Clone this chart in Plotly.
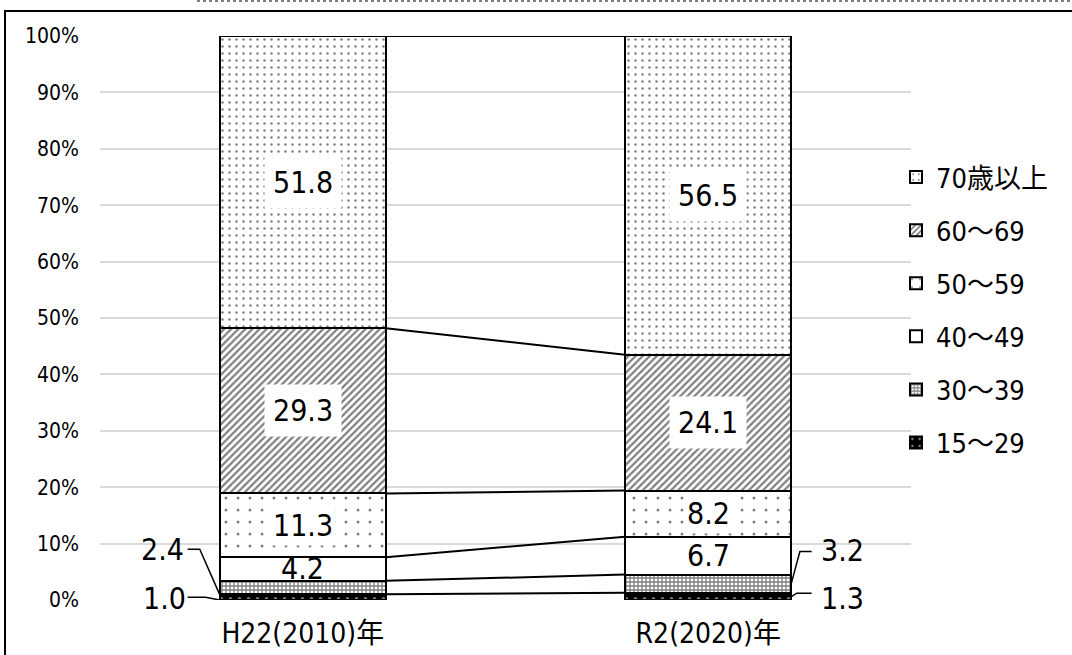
import plotly.graph_objects as go

# ---- data -------------------------------------------------------------
categories = ["H22(2010)年", "R2(2020)年"]
age_groups = ["15～29", "30～39", "40～49", "50～59", "60～69", "70歳以上"]
share_2010 = [1.0, 2.4, 4.2, 11.3, 29.3, 51.8]
share_2020 = [1.3, 3.2, 6.7, 8.2, 24.1, 56.5]
y_tick_values = [0, 10, 20, 30, 40, 50, 60, 70, 80, 90, 100]
y_tick_labels = [f"{v}%" for v in y_tick_values]

FONT = "DejaVu Sans Condensed, Noto Sans CJK JP, sans-serif"
BAR_WIDTH = 0.41
x_pos = [0, 1]

# fill pattern per age group (monochrome, print style)
patterns = {
    "15～29": dict(color="black", pattern=dict(shape=".", fgcolor="white", size=9, solidity=0.1)),
    "30～39": dict(color="white", pattern=dict(shape="+", fgcolor="black", size=4, solidity=0.55)),
    "40～49": dict(color="white", pattern=dict(shape="")),
    "50～59": dict(color="white", pattern=dict(shape=".", fgcolor="black", size=12, solidity=0.05)),
    "60～69": dict(color="white", pattern=dict(shape="/", fgcolor="black", size=5, solidity=0.45)),
    "70歳以上": dict(color="white", pattern=dict(shape=".", fgcolor="black", size=7, solidity=0.1)),
}

fig = go.Figure()

n = len(age_groups)
for i, grp in enumerate(age_groups):
    style = patterns[grp]
    fig.add_trace(go.Bar(
        x=x_pos,
        y=[share_2010[i], share_2020[i]],
        name=grp,
        legendgroup=grp,
        legendrank=n - i,
        width=BAR_WIDTH,
        marker=dict(color=style["color"], pattern=style["pattern"],
                    line=dict(color="black", width=2)),
        hoverinfo="skip",
    ))

# series lines joining the segment boundaries of the two bars
cum_2010, cum_2020 = [], []
a = b = 0.0
for v1, v2 in zip(share_2010, share_2020):
    a += v1
    b += v2
    cum_2010.append(round(a, 1))
    cum_2020.append(round(b, 1))

for c1, c2 in zip(cum_2010, cum_2020):
    fig.add_trace(go.Scatter(
        x=[x_pos[0] + BAR_WIDTH / 2, x_pos[1] - BAR_WIDTH / 2], y=[c1, c2],
        mode="lines", line=dict(color="black", width=2),
        showlegend=False, hoverinfo="skip",
    ))

LABEL_SIZE = 30

# data labels
annotations = []
inside_groups = {"40～49", "50～59", "60～69", "70歳以上"}
for shares, cums, xp in ((share_2010, cum_2010, x_pos[0]), (share_2020, cum_2020, x_pos[1])):
    for i, grp in enumerate(age_groups):
        if grp not in inside_groups:
            continue
        mid = cums[i] - shares[i] / 2
        boxed = grp != "40～49"
        annotations.append(dict(
            x=xp, y=mid, text=f"{shares[i]:.1f}", showarrow=False,
            font=dict(family=FONT, size=LABEL_SIZE, color="black"),
            bgcolor="white" if boxed else "rgba(0,0,0,0)",
            borderpad=(8 if shares[i] > 15 else 2) if boxed else 0,
        ))

# small segments labelled outside the bars with leader lines
left_edge = x_pos[0] - BAR_WIDTH / 2
right_edge = x_pos[1] + BAR_WIDTH / 2
leaders = [
    # (label x, label y, line points)
    (-0.345, 9.0, f"{share_2010[1]:.1f}", [(-0.284, 9.0), (-0.254, 9.0), (left_edge, 1.0)]),
    (-0.342, 0.3, f"{share_2010[0]:.1f}", [(-0.284, 0.5), (-0.240, 0.5), (left_edge, 0.0)]),
    (1.330, 8.7, f"{share_2020[1]:.1f}", [(1.255, 8.6), (1.226, 8.6), (right_edge, 3.0)]),
    (1.330, 0.3, f"{share_2020[0]:.1f}", [(1.255, 1.2), (1.218, 1.2), (right_edge, 0.6)]),
]
for lx, ly, txt, pts in leaders:
    annotations.append(dict(
        x=lx, y=ly, text=txt, showarrow=False,
        font=dict(family=FONT, size=LABEL_SIZE, color="black"),
    ))
    fig.add_trace(go.Scatter(
        x=[p[0] for p in pts], y=[p[1] for p in pts], mode="lines",
        line=dict(color="black", width=1.5), showlegend=False, hoverinfo="skip",
    ))

# pixel helpers for the outer frame
PLOT_L, PLOT_R, PLOT_T, PLOT_B = 100, 911, 36, 600
def px_x(p):
    return (p - PLOT_L) / (PLOT_R - PLOT_L)
def px_y(p):
    return (PLOT_B - p) / (PLOT_B - PLOT_T)

shapes = [
    dict(type="rect", xref="paper", yref="paper",
         x0=px_x(5), x1=px_x(1080), y0=px_y(11), y1=px_y(670),
         line=dict(color="black", width=2), fillcolor="rgba(0,0,0,0)", layer="above"),
    dict(type="line", xref="paper", yref="paper",
         x0=px_x(197), x1=px_x(1072), y0=px_y(1), y1=px_y(1),
         line=dict(color="#555555", width=1.5, dash="dot")),
]

fig.update_layout(
    width=1072, height=655,
    margin=dict(l=PLOT_L, r=1072 - PLOT_R, t=PLOT_T, b=655 - PLOT_B, autoexpand=False),
    paper_bgcolor="white", plot_bgcolor="white",
    barmode="stack", bargap=0,
    font=dict(family=FONT, size=20, color="black"),
    showlegend=True,
    legend=dict(
        x=px_x(896), y=px_y(153), xanchor="left", yanchor="top",
        traceorder="grouped", tracegroupgap=15,
        font=dict(family=FONT, size=27, color="black"),
        itemwidth=30, bgcolor="rgba(0,0,0,0)",
    ),
    xaxis=dict(
        range=[-0.5, 1.5], tickvals=x_pos, ticktext=categories,
        showgrid=False, zeroline=False, showline=False, automargin=False,
        tickfont=dict(family=FONT, size=28), ticklabelstandoff=14,
    ),
    yaxis=dict(
        range=[0, 100], tickvals=y_tick_values, ticktext=y_tick_labels,
        showgrid=True, gridcolor="#d9d9d9", gridwidth=2,
        zeroline=False, showline=False, automargin=False,
        tickfont=dict(family=FONT, size=21), ticklabelstandoff=20,
    ),
    annotations=annotations,
    shapes=shapes,
)

fig.write_html("out.html")
